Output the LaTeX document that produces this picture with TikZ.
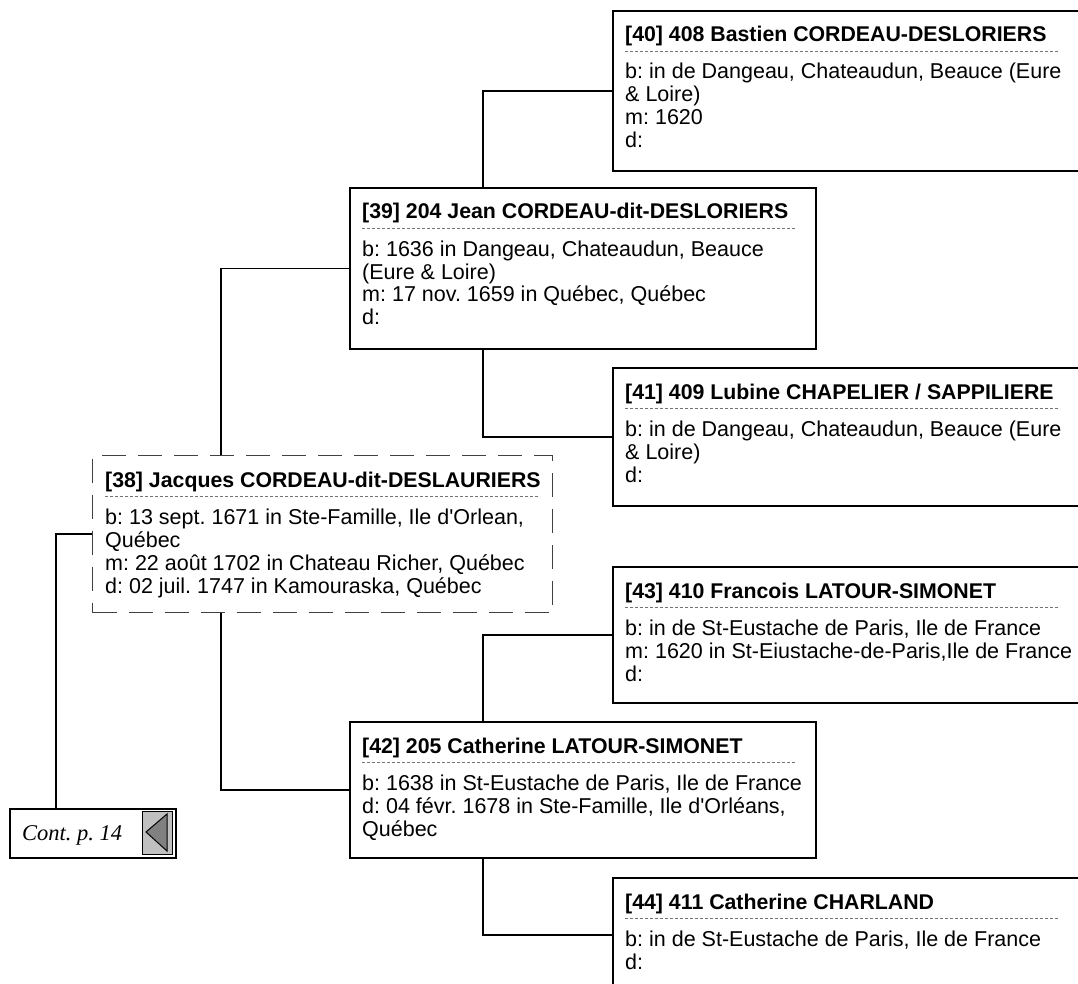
\documentclass[tikz,border=0pt]{standalone}
\usepackage{fontspec}
\setmainfont{Liberation Sans}
\newfontfamily\timesfont{Liberation Serif}
\usetikzlibrary{calc}
\definecolor{btngray}{RGB}{192,192,192}
\definecolor{tridark}{RGB}{128,128,128}
\frenchspacing
\newcommand\pbox[8]{% #1 name, #2 style, #3 x, #4 y, #5 width, #6 height, #7 title, #8 body
  \node[#2, minimum width=#5pt, minimum height=#6pt] (#1) at (#3,#4) {};
  \node[titletext] (#1t) at ($(#1.north west)+(13,32)$) {#7};
  \draw[sepline] ($(#1.north west)+(13,41)$) -- ++(434,0);
  \node[bodytext] (#1b) at ($(#1.north west)+(13,69)$) {\parbox[t]{520pt}{\raggedright\frenchspacing #8}};
}
\begin{document}
\begin{tikzpicture}[x=1pt,y=-1pt,
  pbox/.style={draw=black, line width=1.6pt, anchor=north west, inner sep=0pt},
  dbox/.style={draw=black!75, line width=1pt, dash pattern=on 24pt off 12pt, anchor=north west, inner sep=0pt},
  conn/.style={draw=black, line width=1.6pt},
  titletext/.style={anchor=base west, inner sep=0pt, font=\fontsize{21.3}{23}\selectfont\bfseries},
  bodytext/.style={anchor=base west, inner sep=0pt, font=\fontsize{21.5}{23}\selectfont},
  sepline/.style={draw=black!55, line width=0.8pt, dash pattern=on 3pt off 2pt}
]
\clip (0,0) rectangle (1078,984);

\pbox{b40}{pbox}{612}{10}{470}{160}{[40] 408 Bastien CORDEAU-DESLORIERS}
  {b: in de Dangeau, Chateaudun, Beauce (Eure\\\& Loire)\\m: 1620\\d:}
\pbox{b39}{pbox}{349}{187}{466}{161}{[39] 204 Jean CORDEAU-dit-DESLORIERS}
  {b: 1636 in Dangeau, Chateaudun, Beauce\\(Eure \& Loire)\\m: 17 nov. 1659 in Québec, Québec\\d:}
\pbox{b41}{pbox}{612}{367}{470}{138}{[41] 409 Lubine CHAPELIER / SAPPILIERE}
  {b: in de Dangeau, Chateaudun, Beauce (Eure\\\& Loire)\\d:}
\pbox{b38}{dbox}{92}{455}{460}{157}{[38] Jacques CORDEAU-dit-DESLAURIERS}
  {b: 13 sept. 1671 in Ste-Famille, Ile d\textquotesingle Orlean,\\Québec\\m: 22 août 1702 in Chateau Richer, Québec\\d: 02 juil. 1747 in Kamouraska, Québec}
\pbox{b43}{pbox}{612}{566}{470}{136}{[43] 410 Francois LATOUR-SIMONET}
  {b: in de St-Eustache de Paris, Ile de France\\m: 1620 in St-Eiustache-de-Paris,Ile de France\\d:}
\pbox{b42}{pbox}{349}{721}{466}{136}{[42] 205 Catherine LATOUR-SIMONET}
  {b: 1638 in St-Eustache de Paris, Ile de France\\d: 04 févr. 1678 in Ste-Famille, Ile d\textquotesingle Orléans,\\Québec}
\pbox{b44}{pbox}{612}{877}{470}{114}{[44] 411 Catherine CHARLAND}
  {b: in de St-Eustache de Paris, Ile de France\\d:}

% continuation box
\node[pbox, minimum width=166pt, minimum height=49pt] (cont) at (9,808) {};
\node[anchor=base west, inner sep=0pt, font=\timesfont\itshape\fontsize{22.5}{24}\selectfont] (contt) at (22,840) {Cont. p. 14};
\node[draw=black, line width=0.8pt, fill=btngray, anchor=north west, inner sep=0pt, minimum width=30pt, minimum height=43pt] (contbtn) at (142,811) {};
\draw[fill=tridark, draw=black, line width=1pt] (146,832) -- (167,814) -- (167,851) -- cycle;

% connectors
\draw[conn] ($(b39.north west)+(134,0)$) |- (b40.west);
\draw[conn] ($(b39.south west)+(134,0)$) |- (b41.west);
\draw[conn] ($(b38.north west)+(129,0)$) |- (b39.west);
\draw[conn] ($(b38.south west)+(129,0)$) |- (b42.west);
\draw[conn] ($(b42.north west)+(134,0)$) |- (b43.west);
\draw[conn] ($(b42.south west)+(134,0)$) |- (b44.west);
\draw[conn] (b38.west) -| ($(cont.north west)+(47,0)$);
\end{tikzpicture}
\end{document}
